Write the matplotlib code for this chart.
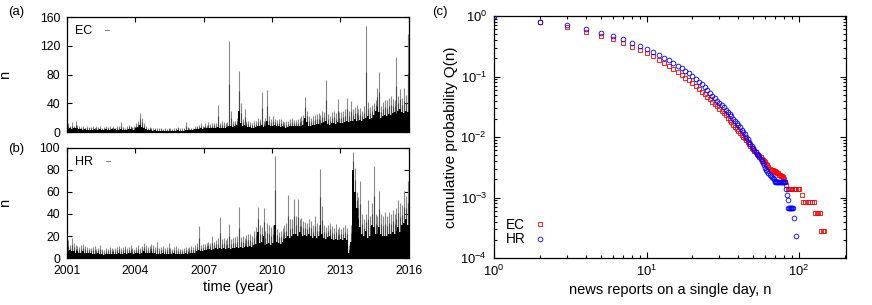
import numpy as np
import matplotlib
matplotlib.use("Agg")
import matplotlib.pyplot as plt
from matplotlib.lines import Line2D
from matplotlib.ticker import LogLocator, NullFormatter

plt.rcParams['font.family'] = ['Liberation Sans', 'DejaVu Sans']
plt.rcParams['mathtext.fontset'] = 'custom'
plt.rcParams['mathtext.rm'] = 'Liberation Sans'
plt.rcParams['mathtext.it'] = 'Liberation Sans:italic'
plt.rcParams['mathtext.default'] = 'regular'
FS_T = 8.8   # tick labels
FS_L = 10.5  # axis labels
FS_K = 9.0   # keys

years = [2001, 2002, 2003, 2004, 2005, 2006, 2007, 2008, 2009, 2010, 2011, 2012, 2013, 2014, 2015]
year_ticks = [2001, 2004, 2007, 2010, 2013, 2016]

# ---- EC monthly values (typical level / monthly maximum) ----
ec_base = {
    2001: [4, 5, 4, 5, 6, 5, 4, 4, 3, 4, 3, 3],
    2002: [3, 3, 4, 3, 3, 4, 3, 3, 4, 3, 3, 4],
    2003: [3, 4, 3, 3, 4, 3, 3, 3, 4, 4, 3, 3],
    2004: [5, 7, 10, 7, 6, 4, 3, 3, 3, 2, 3, 2],
    2005: [2, 2, 2, 2, 1, 2, 2, 2, 2, 2, 3, 2],
    2006: [2, 2, 3, 3, 3, 3, 3, 4, 4, 4, 5, 4],
    2007: [5, 5, 6, 5, 5, 6, 6, 7, 6, 6, 6, 6],
    2008: [7, 8, 8, 7, 8, 10, 30, 12, 9, 10, 8, 7],
    2009: [7, 6, 6, 7, 8, 9, 10, 7, 8, 15, 10, 8],
    2010: [8, 10, 9, 8, 7, 8, 7, 6, 7, 8, 9, 8],
    2011: [8, 8, 9, 9, 10, 20, 14, 9, 9, 10, 10, 11],
    2012: [11, 10, 12, 14, 15, 11, 10, 12, 13, 11, 14, 12],
    2013: [12, 13, 14, 15, 14, 16, 15, 18, 16, 15, 17, 16],
    2014: [18, 20, 22, 18, 20, 24, 30, 35, 28, 20, 22, 24],
    2015: [22, 25, 24, 26, 28, 25, 30, 32, 28, 26, 30, 28],
}
ec_peak = {
    2001: [12, 9, 14, 8, 15, 10, 8, 7, 9, 6, 8, 7],
    2002: [7, 8, 6, 9, 7, 8, 6, 7, 8, 7, 9, 6],
    2003: [8, 6, 9, 8, 14, 7, 6, 8, 10, 9, 7, 8],
    2004: [12, 15, 27, 20, 12, 8, 6, 7, 6, 5, 6, 5],
    2005: [5, 6, 4, 5, 4, 6, 5, 4, 5, 6, 7, 5],
    2006: [5, 6, 14, 7, 6, 5, 6, 8, 9, 10, 12, 9],
    2007: [12, 10, 14, 11, 12, 13, 12, 37, 13, 15, 14, 12],
    2008: [14, 127, 30, 15, 16, 20, 85, 40, 18, 32, 16, 15],
    2009: [14, 13, 15, 16, 20, 18, 56, 15, 20, 58, 22, 18],
    2010: [22, 18, 17, 18, 18, 16, 14, 15, 16, 18, 20, 17],
    2011: [17, 18, 20, 22, 24, 49, 30, 22, 20, 22, 24, 25],
    2012: [26, 24, 30, 28, 73, 25, 22, 28, 30, 26, 46, 28],
    2013: [28, 30, 32, 48, 30, 43, 32, 35, 38, 32, 34, 30],
    2014: [36, 147, 42, 35, 38, 40, 45, 62, 84, 36, 42, 45],
    2015: [45, 48, 50, 46, 44, 104, 50, 60, 48, 61, 52, 137],
}

# ---- HR monthly values (typical level / monthly maximum) ----
hr_base = {
    2001: [6, 7, 6, 6, 5, 6, 5, 5, 6, 5, 5, 5],
    2002: [5, 4, 4, 4, 5, 4, 4, 3, 4, 4, 4, 4],
    2003: [4, 4, 4, 5, 4, 4, 5, 4, 5, 5, 4, 4],
    2004: [5, 5, 4, 5, 6, 5, 5, 5, 6, 5, 5, 4],
    2005: [4, 4, 5, 4, 4, 4, 4, 4, 5, 4, 4, 4],
    2006: [4, 4, 5, 4, 5, 5, 5, 5, 6, 7, 6, 6],
    2007: [7, 7, 8, 8, 7, 8, 9, 8, 9, 8, 9, 8],
    2008: [8, 9, 8, 9, 9, 10, 9, 10, 9, 10, 11, 10],
    2009: [11, 10, 12, 13, 24, 14, 15, 20, 12, 13, 14, 12],
    2010: [14, 30, 15, 14, 13, 15, 17, 18, 20, 18, 20, 22],
    2011: [22, 20, 24, 22, 20, 21, 20, 22, 20, 18, 20, 18],
    2012: [20, 30, 22, 18, 17, 19, 20, 17, 16, 17, 16, 16],
    2013: [17, 16, 18, 16, 5, 15, 80, 60, 45, 35, 28, 22],
    2014: [20, 25, 18, 20, 30, 28, 22, 22, 28, 22, 20, 20],
    2015: [20, 22, 22, 24, 22, 25, 28, 24, 30, 32, 35, 30],
}
hr_peak = {
    2001: [16, 12, 18, 14, 12, 11, 10, 12, 13, 11, 10, 9],
    2002: [9, 10, 11, 8, 9, 12, 8, 7, 9, 8, 10, 9],
    2003: [8, 9, 10, 11, 9, 10, 11, 9, 10, 12, 9, 8],
    2004: [10, 12, 9, 11, 14, 12, 10, 11, 13, 12, 10, 15],
    2005: [9, 10, 11, 9, 10, 14, 9, 8, 10, 11, 9, 8],
    2006: [8, 9, 10, 9, 10, 11, 10, 12, 14, 29, 12, 13],
    2007: [13, 14, 15, 14, 20, 15, 16, 18, 37, 17, 18, 16],
    2008: [18, 31, 17, 18, 19, 20, 46, 19, 20, 18, 21, 22],
    2009: [22, 20, 25, 28, 46, 30, 28, 45, 25, 32, 30, 28],
    2010: [30, 93, 26, 24, 25, 27, 30, 32, 57, 35, 35, 54],
    2011: [38, 54, 35, 36, 34, 33, 32, 35, 34, 30, 38, 32],
    2012: [30, 81, 47, 30, 28, 30, 32, 29, 27, 31, 26, 28],
    2013: [26, 28, 30, 27, 12, 30, 96, 82, 60, 55, 70, 40],
    2014: [35, 40, 53, 38, 50, 84, 40, 38, 61, 40, 38, 42],
    2015: [38, 42, 40, 44, 40, 45, 53, 50, 48, 61, 56, 70],
}

# ---- cumulative distribution Q(n) ----
ec_n = [1, 2, 3, 4, 5, 6, 7, 8, 9, 10, 11, 12, 13, 14, 15, 16, 17, 18, 19, 20,
        21, 22, 23, 24, 25, 26, 27, 28, 29, 30, 31, 32, 33, 34, 35, 36, 37, 38, 39, 40,
        41, 42, 43, 44, 45, 46, 47, 48, 49, 50, 51, 52, 53, 54, 55, 56, 57, 58, 59, 60,
        61, 62, 63, 64, 65, 66, 67, 68, 69, 70, 71, 72, 73, 74, 75, 76, 77, 78, 79, 80,
        81, 82, 84, 86, 88, 90, 92, 94, 96, 98, 100, 104, 106, 110, 114, 118, 122, 126,
        128, 131, 134, 137, 140, 143, 146]
ec_q = [1.0, 0.79, 0.66, 0.55, 0.47, 0.41, 0.355, 0.305, 0.27, 0.245, 0.215, 0.19, 0.17, 0.15,
        0.135, 0.12, 0.107, 0.096, 0.086, 0.077, 0.069, 0.062, 0.056, 0.051, 0.046, 0.042,
        0.038, 0.035, 0.032, 0.029, 0.027, 0.025, 0.023, 0.021, 0.019, 0.0175, 0.016, 0.0148,
        0.0137, 0.0127, 0.0118, 0.011, 0.0102, 0.0095, 0.0088, 0.0082, 0.0077, 0.0072, 0.0067,
        0.0063, 0.0059, 0.0056, 0.0053, 0.0050, 0.0048, 0.0046, 0.0044, 0.0042, 0.0040, 0.0038,
        0.0036, 0.0034, 0.0032, 0.0030, 0.0029, 0.0028, 0.0028, 0.0027, 0.0027, 0.0026,
        0.0026, 0.0025, 0.0025, 0.0024, 0.0024, 0.0023, 0.0023, 0.0022, 0.0021, 0.0020,
        0.0018, 0.0016, 0.0014, 0.0014, 0.0014, 0.0014, 0.0014, 0.0014, 0.0014, 0.0014, 0.0014,
        0.0011, 0.00085, 0.00085, 0.00085, 0.00085, 0.00085, 0.00085,
        0.00055, 0.00055, 0.00055, 0.00055, 0.00028, 0.00028, 0.00028]

hr_n = [1, 2, 3, 4, 5, 6, 7, 8, 9, 10, 11, 12, 13, 14, 15, 16, 17, 18, 19, 20,
        21, 22, 23, 24, 25, 26, 27, 28, 29, 30, 31, 32, 33, 34, 35, 36, 37, 38, 39, 40,
        41, 42, 43, 44, 45, 46, 47, 48, 49, 50, 51, 52, 53, 54, 55, 56, 57, 58, 59, 60,
        61, 62, 63, 64, 65, 66, 67, 68, 69, 70, 71, 72, 73, 74, 75, 76, 77, 78, 79, 80,
        81, 82, 83, 84, 85, 86, 87, 88, 89, 90, 91, 93, 96]
hr_q = [1.0, 0.81, 0.70, 0.60, 0.53, 0.465, 0.41, 0.36, 0.32, 0.285, 0.255, 0.228, 0.205, 0.184,
        0.166, 0.15, 0.137, 0.125, 0.114, 0.102, 0.091, 0.082, 0.074, 0.066, 0.059, 0.053,
        0.048, 0.044, 0.040, 0.037, 0.034, 0.031, 0.0285, 0.026, 0.024, 0.022, 0.020, 0.0185,
        0.017, 0.0157, 0.0145, 0.0133, 0.0122, 0.0111, 0.0101, 0.0092, 0.0084, 0.0077, 0.0071,
        0.0066, 0.0061, 0.0057, 0.0053, 0.0050, 0.0047, 0.0043, 0.0040, 0.0037, 0.0034, 0.0031,
        0.0029, 0.0027, 0.0025, 0.0024, 0.0023, 0.0022, 0.0021, 0.0020, 0.0019,
        0.0018, 0.0018, 0.0018, 0.0018, 0.0018, 0.0018, 0.0018, 0.0018, 0.0018, 0.0018, 0.0018,
        0.0018, 0.0014, 0.0011, 0.0009, 0.00068, 0.00068, 0.00068, 0.00068, 0.00068, 0.00068,
        0.00068, 0.00046, 0.00023]


def flatten(d):
    xs, vs = [], []
    for y in years:
        for m, v in enumerate(d[y]):
            xs.append(y + m / 12.0)
            vs.append(v)
    return np.array(xs), np.array(vs)


fig = plt.figure(figsize=(8.72, 3.05), dpi=100)
ax_a = fig.add_axes([0.0768, 0.567, 0.392, 0.377])
ax_b = fig.add_axes([0.0768, 0.154, 0.392, 0.361])
ax_c = fig.add_axes([0.5665, 0.154, 0.4037, 0.7935])


def ts_panel(ax, base, peak, ylim, yticks, label):
    x, b = flatten(base)
    _, p = flatten(peak)
    ax.vlines(x + 1 / 24.0, 0, p, color='#8a8a8a', lw=0.8, zorder=2)
    ax.vlines(x + 1 / 24.0, 0, (b + p) / 2.0, color='#4a4a4a', lw=0.8, zorder=2.5)
    ax.bar(x, b, width=1 / 12.0, align='edge', color='black', lw=0, zorder=3)
    ax.set_xlim(2001, 2016)
    ax.set_ylim(*ylim)
    ax.set_yticks(yticks)
    ax.set_xticks(year_ticks)
    ax.tick_params(direction='in', top=True, right=True, labelsize=FS_T, length=3.5, width=0.8)
    ax.tick_params(axis='y', pad=5)
    ax.tick_params(axis='x', pad=5)
    ax.set_ylabel('n', fontsize=FS_L)
    ax.yaxis.set_label_coords(-0.16, 0.5)
    for s in ax.spines.values():
        s.set_linewidth(0.9)
    ax.legend(handles=[Line2D([], [], color='#8a8a8a', lw=0.8)], labels=[label],
              loc='upper left', frameon=False, markerfirst=False, handlelength=0.35,
              handletextpad=1.0, fontsize=FS_K, borderaxespad=0.25)


ts_panel(ax_a, ec_base, ec_peak, (0, 160), [0, 40, 80, 120, 160], 'EC')
ts_panel(ax_b, hr_base, hr_peak, (0, 100), [0, 20, 40, 60, 80, 100], 'HR')
ax_a.set_xticklabels([])
ax_b.set_xlabel('time (year)', fontsize=FS_L, labelpad=2)

ax_c.plot(ec_n, ec_q, 's', ms=3.4, mfc='none', mec='red', mew=0.6, label='EC', zorder=3)
ax_c.plot(hr_n, hr_q, 'o', ms=3.4, mfc='none', mec='blue', mew=0.6, label='HR', zorder=3)
ax_c.set_xscale('log')
ax_c.set_yscale('log')
ax_c.set_xlim(1, 203)
ax_c.set_ylim(1e-4, 1)
ax_c.xaxis.set_major_locator(LogLocator(base=10, numticks=10))
ax_c.xaxis.set_minor_locator(LogLocator(base=10, subs=np.arange(2, 10), numticks=10))
ax_c.yaxis.set_minor_locator(LogLocator(base=10, subs=np.arange(2, 10), numticks=10))
ax_c.xaxis.set_minor_formatter(NullFormatter())
ax_c.yaxis.set_minor_formatter(NullFormatter())
ax_c.tick_params(which='both', direction='in', top=True, right=True, labelsize=FS_T + 0.6, width=0.8)
ax_c.tick_params(axis='y', which='both', pad=5)
ax_c.tick_params(axis='x', which='both', pad=4)
ax_c.tick_params(which='major', length=4)
ax_c.tick_params(which='minor', length=2.2)
for s in ax_c.spines.values():
    s.set_linewidth(0.9)
ax_c.set_xlabel('news reports on a single day, n', fontsize=FS_L, labelpad=3)
ax_c.set_ylabel('cumulative probability Q(n)', fontsize=FS_L + 0.5, labelpad=2)
ax_c.legend(loc='lower left', frameon=False, markerfirst=False, handlelength=0.8,
            handletextpad=0.7, fontsize=FS_K + 0.8, labelspacing=0.05, borderaxespad=0.45)

fig.text(0.009, 0.952, '(a)', fontsize=FS_K + 0.5)
fig.text(0.009, 0.502, '(b)', fontsize=FS_K + 0.5)
fig.text(0.496, 0.952, '(c)', fontsize=FS_K + 0.5)

fig.savefig('out.png', dpi=100)
